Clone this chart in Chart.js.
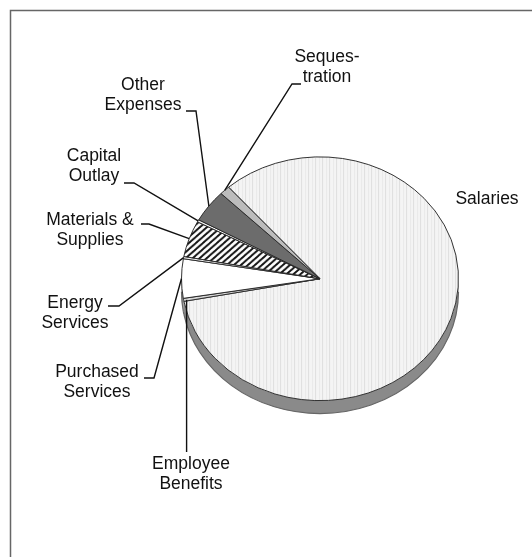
<!DOCTYPE html>
<html>
<head>
<meta charset="utf-8">
<script src="https://cdn.jsdelivr.net/npm/chart.js@4.4.0/dist/chart.umd.min.js"></script>
<style>
  body { margin: 0; background: #fff; }
  #wrap { width: 532px; height: 557px; position: relative; }
</style>
</head>
<body>
<div id="wrap"><canvas id="budget-chart"></canvas></div>
<script>
// slices go clockwise, starting with Salaries at the upper left
const categories = ["Salaries", "Employee Benefits", "Purchased Services", "Energy Services",
  "Materials & Supplies", "Capital Outlay", "Other Expenses", "Sequestration"];
const shares = [83.5, 0.4, 5.2, 0.3, 4.8, 0.3, 4.3, 1.2];
const labelLines = [["Salaries"], ["Employee", "Benefits"], ["Purchased", "Services"], ["Energy", "Services"],
  ["Materials &", "Supplies"], ["Capital", "Outlay"], ["Other", "Expenses"], ["Seques-", "tration"]];

// where each label sits and how its leader line leaves it
const labelLayout = [
  { x: 487, y: 199, leader: null },
  { x: 191, y: 464, leader: "up", from: 452 },
  { x: 97, y: 372, leader: [[144, 378], [154, 378]] },
  { x: 75, y: 303, leader: [[108, 306], [119, 306]] },
  { x: 90, y: 220, leader: [[141, 224], [149, 224]] },
  { x: 94, y: 156, leader: [[124, 183], [134, 183]] },
  { x: 143, y: 85, leader: [[186, 111], [196, 111]] },
  { x: 327, y: 57, leader: [[301, 84], [292, 84]] }
];

const SQ = 0.88;      // tilt of the pie
const DEPTH = 13;     // rim thickness

function stripes() {
  const c = document.createElement("canvas");
  c.width = 7; c.height = 4;
  const g = c.getContext("2d");
  g.fillStyle = "#f4f4f4"; g.fillRect(0, 0, 7, 4);
  g.fillStyle = "#e0e0e0"; g.fillRect(0, 0, 1, 4);
  g.fillStyle = "#eaeaea"; g.fillRect(4, 0, 1, 4);
  return g.createPattern(c, "repeat");
}

function hatch() {
  const c = document.createElement("canvas");
  c.width = 7; c.height = 7;
  const g = c.getContext("2d");
  g.fillStyle = "#fff"; g.fillRect(0, 0, 7, 7);
  g.strokeStyle = "#111"; g.lineWidth = 2;
  g.beginPath();
  g.moveTo(-1, 8); g.lineTo(8, -1);
  g.moveTo(-1, 1); g.lineTo(1, -1);
  g.moveTo(6, 8); g.lineTo(8, 6);
  g.stroke();
  return g.createPattern(c, "repeat");
}

const fills = [stripes(), "#d6d6d6", "#ffffff", "#f4f4f4", hatch(), "#f4f4f4", "#6c6c6c", "#bcbcbc"];

const tiltPlugin = {
  id: "tilt",
  beforeDatasetsDraw(chart) {
    const ctx = chart.ctx;
    const arcs = chart.getDatasetMeta(0).data;
    const cx = arcs[0].x, cy = arcs[0].y;
    ctx.save();
    ctx.translate(cx, cy);
    ctx.scale(1, SQ);
    ctx.translate(-cx, -cy);
    // rim under the front half of the pie
    const d = DEPTH / SQ;
    arcs.forEach(function (a) {
      for (let k = -2; k <= 2; k++) {
        const lo = Math.max(a.startAngle, 2 * Math.PI * k);
        const hi = Math.min(a.endAngle, 2 * Math.PI * k + Math.PI);
        if (hi <= lo) continue;
        ctx.beginPath();
        ctx.arc(cx, cy + d, a.outerRadius, lo, hi);
        ctx.arc(cx, cy, a.outerRadius, hi, lo, true);
        ctx.closePath();
        ctx.fillStyle = "#8a8a8a";
        ctx.fill();
        ctx.beginPath();
        ctx.arc(cx, cy + d, a.outerRadius, lo, hi);
        ctx.strokeStyle = "#666";
        ctx.lineWidth = 1.2;
        ctx.stroke();
      }
    });
  },
  afterDatasetsDraw(chart) {
    chart.ctx.restore();
  },
  afterDraw(chart) {
    const ctx = chart.ctx;
    const arcs = chart.getDatasetMeta(0).data;
    ctx.save();
    // frame
    ctx.strokeStyle = "#666";
    ctx.lineWidth = 1.5;
    ctx.beginPath();
    ctx.moveTo(10.5, 557); ctx.lineTo(10.5, 10.5); ctx.lineTo(532, 10.5);
    ctx.stroke();

    ctx.font = "17.5px 'Liberation Sans', Arial, sans-serif";
    ctx.fillStyle = "#111";
    ctx.textAlign = "center";
    ctx.textBaseline = "middle";
    ctx.strokeStyle = "#111";
    ctx.lineWidth = 1.4;
    arcs.forEach(function (a, i) {
      const lay = labelLayout[i];
      labelLines[i].forEach(function (t, j) {
        ctx.fillText(t, lay.x, lay.y + j * 20.5);
      });
      if (!lay.leader) return;
      const mid = (a.startAngle + a.endAngle) / 2;
      const px = a.x + a.outerRadius * Math.cos(mid);
      const py = a.y + a.outerRadius * SQ * Math.sin(mid);
      ctx.beginPath();
      if (lay.leader === "up") {
        ctx.moveTo(px + 3, lay.from);
        ctx.lineTo(px + 3, py);
      } else {
        ctx.moveTo(lay.leader[0][0], lay.leader[0][1]);
        ctx.lineTo(lay.leader[1][0], lay.leader[1][1]);
        ctx.lineTo(px, py);
      }
      ctx.stroke();
    });
    ctx.restore();
  }
};

new Chart(document.getElementById("budget-chart"), {
  type: "pie",
  data: {
    labels: categories,
    datasets: [{
      data: shares,
      backgroundColor: fills,
      borderColor: "#262626",
      borderWidth: 1,
      clip: false
    }]
  },
  options: {
    responsive: true,
    maintainAspectRatio: false,
    animation: false,
    events: [],
    rotation: 318.7,
    layout: { padding: { left: 181, right: 73, top: 139.5, bottom: 139 } },
    plugins: {
      legend: { display: false },
      tooltip: { enabled: false },
      title: { display: false }
    }
  },
  plugins: [tiltPlugin]
});
</script>
</body>
</html>
